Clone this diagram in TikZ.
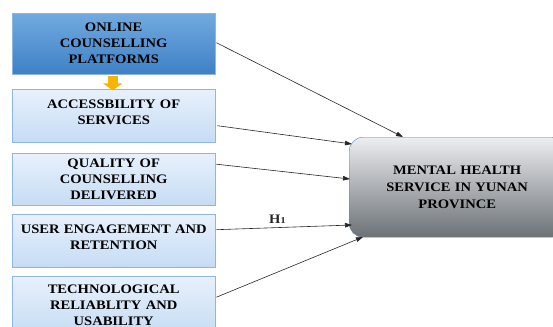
\documentclass[tikz,border=0pt]{standalone}
\usepackage{fontspec}
\setmainfont[FakeStretch=1.12]{Liberation Serif}
\usetikzlibrary{arrows.meta}
\definecolor{darktop}{HTML}{72AADF}
\definecolor{darkbot}{HTML}{3E80C6}
\definecolor{lighttop}{HTML}{E8F1FC}
\definecolor{lightbot}{HTML}{C6DCF4}
\definecolor{boxline}{HTML}{8DB6E2}
\definecolor{graytop}{HTML}{ECEEF0}
\definecolor{graybot}{HTML}{6C7176}
\definecolor{grayline}{HTML}{5F84AE}
\definecolor{arrowyellow}{HTML}{F7B400}
\begin{document}
\begin{tikzpicture}[x=1pt,y=-1pt,
  box node/.style={rectangle,draw=boxline,top color=lighttop,bottom color=lightbot,
    font=\bfseries\fontsize{13}{16}\selectfont,align=center,text width=200pt,
    minimum width=203pt,inner sep=0pt,anchor=north west},
  main node/.style={rectangle,rounded corners=14pt,draw=grayline,top color=graytop,
    bottom color=graybot,font=\bfseries\fontsize{13}{17}\selectfont,align=center,
    text width=210pt,minimum width=216pt,minimum height=100pt,inner sep=0pt,anchor=north west},
  link/.style={-{Triangle[length=7pt,width=4.5pt]},line width=0.6pt,black!85}]

  \useasboundingbox (0,0) rectangle (553,326);

  \node[box node,top color=darktop,bottom color=darkbot,minimum height=61pt] (0) at (12,13)
    {ONLINE\\COUNSELLING\\PLATFORMS};
  \node[box node,minimum height=53pt,text depth=23pt] (1) at (12,89) {ACCESSBILITY OF\\SERVICES};
  \node[box node,minimum height=52pt] (2) at (12,153) {QUALITY OF\\COUNSELLING\\DELIVERED};
  \node[box node,minimum height=53pt,text depth=23pt] (3) at (12,214) {USER ENGAGEMENT AND\\RETENTION};
  \node[box node,minimum height=58pt] (4) at (12,276) {TECHNOLOGICAL\\RELIABLITY AND\\USABILITY};
  \node[main node] (5) at (349,137) {MENTAL HEALTH\\SERVICE IN YUNAN\\PROVINCE};

  % down arrow between the two top boxes
  \draw[arrowyellow,line width=10pt,shorten <=2pt,-{Triangle[length=7pt 0 0,width=19pt 0 0]}]
    (0.south) ++(-1,0) -- ++(0,16);

  \path (0.east) ++(1,-1) coordinate (a0)
   (1.east) ++(2,10) coordinate (a1)
   (2.east) ++(1,-15) coordinate (a2)
   (3.east) ++(1,-11) coordinate (a3)
   (4.east) ++(1,-8) coordinate (a4);

  \draw[link] (a0) -- ([xshift=54pt]5.north west);
  \draw[link] (a1) -- ([xshift=3pt,yshift=-7pt]5.north west);
  \draw[link] (a2) -- ([xshift=1pt,yshift=-42pt]5.north west);
  \draw[link] (a3) -- node[pos=0.45,above,font=\bfseries\fontsize{13}{14}\selectfont]{H{\fontsize{9}{10}\selectfont 1}} ([xshift=3pt,yshift=-88pt]5.north west);
  \draw[link] (a4) -- ([xshift=14pt,yshift=-100pt]5.north west);
\end{tikzpicture}
\end{document}
